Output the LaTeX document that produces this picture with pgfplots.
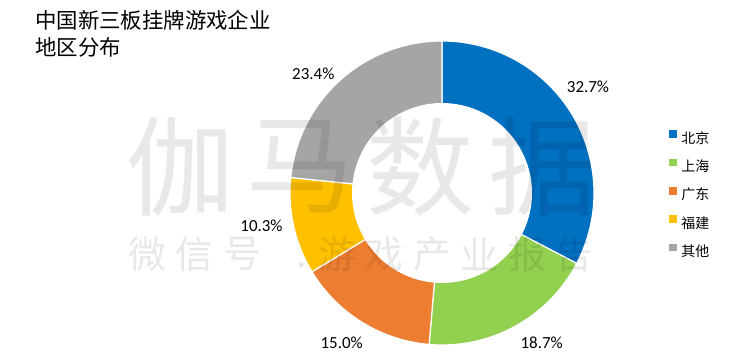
\documentclass[border=0pt]{standalone}
\usepackage{fontspec}
\usepackage{pgfplots}
\pgfplotsset{compat=1.18}
\newfontfamily\cjk{Noto Sans CJK SC}
\newfontfamily\lab{Carlito}
\definecolor{cBJ}{HTML}{0070C0}
\definecolor{cSH}{HTML}{92D050}
\definecolor{cGD}{HTML}{ED7D31}
\definecolor{cFJ}{HTML}{FFC000}
\definecolor{cQT}{HTML}{A5A5A5}
% data (percent)
\def\vBJ{32.7}\def\vSH{18.7}\def\vGD{15.0}\def\vFJ{10.3}\def\vQT{23.4}
\pgfmathsetmacro\tot{\vBJ+\vSH+\vGD+\vFJ+\vQT}
\pgfmathsetmacro\aA{90}
\pgfmathsetmacro\aB{\aA-360*\vBJ/\tot}
\pgfmathsetmacro\aC{\aB-360*\vSH/\tot}
\pgfmathsetmacro\aD{\aC-360*\vGD/\tot}
\pgfmathsetmacro\aE{\aD-360*\vFJ/\tot}
\pgfmathsetmacro\aF{\aE-360*\vQT/\tot}
\def\cx{442}\def\cy{168}\def\R{152}\def\r{90}
\newcommand{\donutwedge}[3]{%
  \addplot[fill=#1, draw=white, line width=1.2bp, domain=#2:#3, samples=90]
    ({\cx+\R*cos(x)},{\cy+\R*sin(x)}) -- (axis cs:\cx,\cy) -- cycle;}
\begin{document}
\begin{tikzpicture}
\begin{axis}[
  scale only axis, width=750bp, height=361bp,
  xmin=0, xmax=750, ymin=0, ymax=361,
  axis lines=none, clip=false,
  legend image code/.code={\fill (0bp,0.8bp) rectangle (9bp,9.8bp);},
  legend style={at={(axis cs:668,232)}, anchor=north west, draw=none, fill=none,
    inner sep=0pt, row sep=11.4bp, column sep=3bp,
    font=\cjk\fontsize{14}{14}\selectfont,
    nodes={inner sep=0pt, text height=10bp, text depth=3bp}},
  legend cell align=left,
]
\path (axis cs:0,0) rectangle (axis cs:750,361);
\donutwedge{cBJ}{\aB}{\aA}
\donutwedge{cSH}{\aC}{\aB}
\donutwedge{cGD}{\aD}{\aC}
\donutwedge{cFJ}{\aE}{\aD}
\donutwedge{cQT}{\aF}{\aE}
\addplot[fill=white, draw=none, domain=0:360, samples=120, forget plot]
  ({\cx+\r*cos(x)},{\cy+\r*sin(x)}) -- cycle;
\legend{北京,上海,广东,福建,其他}
% percentage labels
\begin{scope}[every node/.style={inner sep=0pt, font=\lab\fontsize{17}{17}\selectfont}]
\node at (axis cs:588,274.3) {32.7\%};
\node at (axis cs:313.3,287.7) {23.4\%};
\node at (axis cs:261.5,135.5) {10.3\%};
\node at (axis cs:341.7,18.3) {15.0\%};
\node at (axis cs:541.7,18.3) {18.7\%};
\end{scope}
% watermark
\begin{scope}[every node/.style={inner sep=0pt, text opacity=0.09, font=\cjk\fontsize{108}{108}\selectfont}]
\node at (axis cs:180,194) {伽};
\node at (axis cs:300,194) {马};
\node at (axis cs:420,194) {数};
\node at (axis cs:542,194) {据};
\end{scope}
\begin{scope}[every node/.style={inner sep=0pt, text opacity=0.09, font=\cjk\fontsize{38}{38}\selectfont}]
\node at (axis cs:147,107) {微};
\node at (axis cs:194.5,107) {信};
\node at (axis cs:242,107) {号};
\node at (axis cs:302,96) {.};
\node at (axis cs:337,107) {游};
\node at (axis cs:384.5,107) {戏};
\node at (axis cs:432,107) {产};
\node at (axis cs:479.5,107) {业};
\node at (axis cs:527,107) {报};
\node at (axis cs:574.5,107) {告};
\end{scope}
% title
\node[anchor=west, inner sep=0pt, font=\cjk\fontsize{21.5}{21.5}\selectfont] at (axis cs:35,341) {中国新三板挂牌游戏企业};
\node[anchor=west, inner sep=0pt, font=\cjk\fontsize{21.5}{21.5}\selectfont] at (axis cs:35,314) {地区分布};
\end{axis}
\end{tikzpicture}
\end{document}
